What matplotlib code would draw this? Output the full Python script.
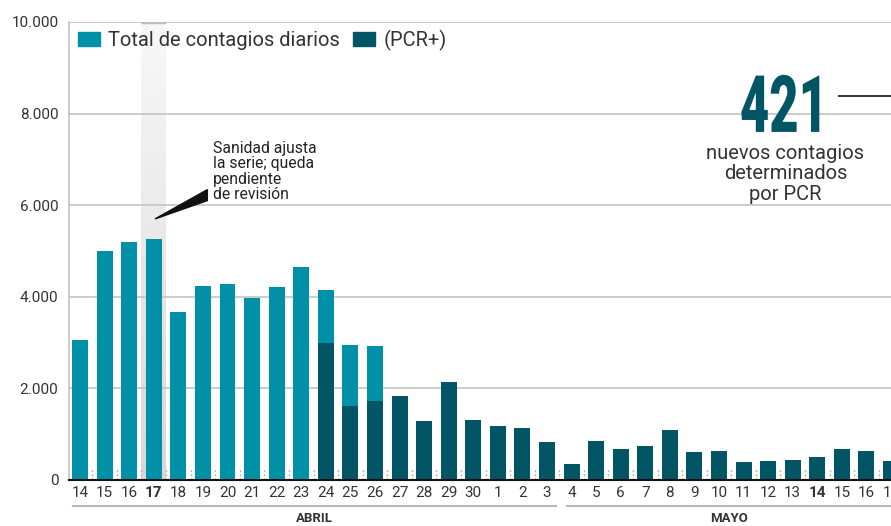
import matplotlib
matplotlib.use("Agg")
import matplotlib.pyplot as plt
import numpy as np
from matplotlib.patches import Patch, Polygon
from matplotlib.colors import LinearSegmentedColormap
from matplotlib.patheffects import AbstractPathEffect
from matplotlib.transforms import Affine2D

plt.rcParams["font.family"] = ["Roboto", "DejaVu Sans"]

# dias: 14-30 abril, 1-17 mayo
dias = [str(d) for d in range(14, 31)] + [str(d) for d in range(1, 18)]
# total de contagios diarios (14 abril - 26 abril)
total_diarios = [3060, 5005, 5200, 5270, 3670, 4240, 4280, 3980, 4220, 4660,
                 4150, 2950, 2930]
# PCR+ (24 abril - 17 mayo)
pcr_inicio = 10
pcr = [2995, 1617, 1727, 1836, 1290, 2142, 1311,
       1180, 1137, 830, 350, 852, 678, 743, 1093, 612, 634, 393, 415, 437,
       503, 678, 634, 421]
dias_destacados = [3, 30]
yticks = [0, 2000, 4000, 6000, 8000, 10000]

TEAL = "#0091a8"
DARK = "#025565"
TXT = "#333333"


class Estrecho(AbstractPathEffect):
    """Comprime el texto en horizontal (no hay fuente condensada)."""

    def __init__(self, sx):
        super().__init__()
        self.sx = sx

    def draw_path(self, renderer, gc, tpath, affine, rgbFace=None):
        xs = tpath.vertices[:, 0]
        c = (xs.min() + xs.max()) / 2
        sq = Affine2D().translate(-c, 0).scale(self.sx, 1).translate(c, 0)
        renderer.draw_path(gc, tpath, sq + affine, rgbFace)


fig = plt.figure(figsize=(8.91, 5.26), dpi=100)
ax = fig.add_axes([0.078, 0.0875, 0.922, 0.8707])

x_total = np.arange(len(total_diarios))
x_pcr = np.arange(pcr_inicio, pcr_inicio + len(pcr))
ax.bar(x_total, total_diarios, width=0.65, color=TEAL, zorder=2)
ax.bar(x_pcr, pcr, width=0.65, color=DARK, zorder=3)

# banda gris del dia 17
grad = np.linspace(0, 1, 200).reshape(-1, 1)
cmap = LinearSegmentedColormap.from_list("band", ["#d8d8da", "#f8f8f8"])
ax.imshow(grad, extent=(2.5, 3.5, 0, 10000), origin="lower", aspect="auto",
          cmap=cmap, zorder=0)
ax.plot([2.5, 3.5], [10000, 10000], color="#bdbdbd", lw=2.5, zorder=1,
        solid_capstyle="butt")

# marcas punteadas entre barras
ax.vlines(np.arange(len(dias) - 1) + 0.5, 0, 260, colors="#b5b5b5",
          linestyles=(0, (1.5, 1.5)), lw=1, zorder=1)

ax.set_xlim(-0.43, 32.85)
ax.set_ylim(0, 10000)
ax.set_axisbelow(True)
ax.yaxis.grid(True, color="#c4c4c4", lw=1.2)
ax.set_yticks(yticks)
ax.set_yticklabels([f"{v:,}".replace(",", ".") for v in yticks])
ax.tick_params(axis="y", length=0, pad=8, labelsize=11, labelcolor=TXT)
ax.set_xticks(np.arange(len(dias)))
ax.set_xticklabels(dias)
ax.tick_params(axis="x", length=0, pad=4, labelsize=11, labelcolor=TXT)
for i in dias_destacados:
    ax.get_xticklabels()[i].set_fontweight("bold")

for s in ["top", "right"]:
    ax.spines[s].set_visible(False)
ax.spines["left"].set_color("#c4c4c4")
ax.spines["left"].set_linewidth(1.2)
ax.spines["bottom"].set_color("#111111")
ax.spines["bottom"].set_linewidth(1.5)
ax.spines["bottom"].set_zorder(4)

# meses
tr = ax.get_xaxis_transform()
for x0, x1, name in [(-0.28, 19.36, "ABRIL"), (19.8, 33.0, "MAYO")]:
    ax.plot([x0, x1], [-0.057, -0.057], color="#b3b8bd", lw=1.5,
            transform=tr, clip_on=False)
    ax.text((x0 + x1) / 2, -0.085, name, transform=tr, ha="center",
            va="center", fontsize=9.5, fontweight="bold", color=TXT)

# leyenda
handles = [Patch(color=TEAL), Patch(color=DARK)]
ax.legend(handles, ["Total de contagios diarios", "(PCR+)"], loc="upper left",
          bbox_to_anchor=(0.0104, 0.983), ncol=2, frameon=False, fontsize=14.5,
          handlelength=1.1, handleheight=0.65, handletextpad=0.4,
          columnspacing=0.65, borderaxespad=0, borderpad=0, labelcolor=TXT)

# nota
ax.text(5.4, 7410, "Sanidad ajusta\nla serie; queda\npendiente\nde revisión",
        ha="left", va="top", fontsize=11.3, linespacing=1.05, color="#222222")
ax.add_patch(Polygon([[5.18, 6340], [5.18, 6100], [3.05, 5700]],
                     closed=True, color="#111111", zorder=5))

# cifra destacada
ax.text(28.74, 7600, "421", ha="center", va="baseline", fontsize=57,
        fontweight="black", color=DARK, path_effects=[Estrecho(0.64)])
ax.text(28.7, 7340, "nuevos contagios\ndeterminados\npor PCR", ha="center",
        va="top", fontsize=14.5, linespacing=1.1, color=TXT)
ax.plot([30.9, 33.0], [8384, 8384], color="#222222", lw=1.3, clip_on=False)

fig.savefig("out.png", dpi=100)
